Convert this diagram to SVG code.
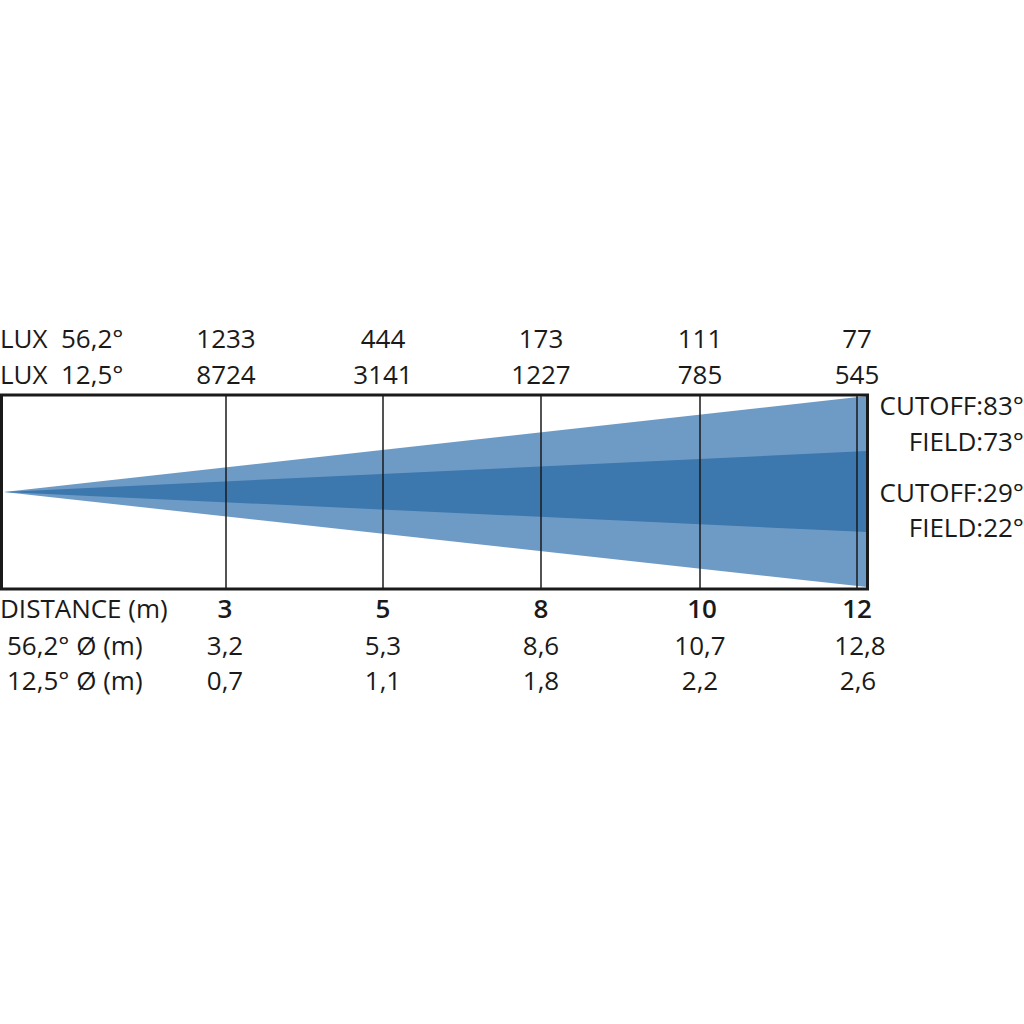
<svg xmlns="http://www.w3.org/2000/svg" width="1024" height="1024" viewBox="0 0 1024 1024">
<style>
text{font-family:"Open Sans","Liberation Sans",sans-serif;font-size:26px;fill:#1a1a1a}
.c{text-anchor:middle}
.r{text-anchor:end}
.b{font-weight:600}
.grid{stroke:#1a1a1a;stroke-width:1.5;fill:none}
.frame{stroke:#1a1a1a;stroke-width:3;fill:none}
</style>
<rect width="1024" height="1024" fill="#ffffff"/>
<g id="beam">
<polygon points="4,492 867,396 867,587" fill="#6e9bc6"/>
<polygon points="4,492 867,451 867,532" fill="#3c77ae"/>
</g>
<g id="grid">
<line class="grid" x1="226" y1="395" x2="226" y2="589"/>
<line class="grid" x1="383" y1="395" x2="383" y2="589"/>
<line class="grid" x1="541" y1="395" x2="541" y2="589"/>
<line class="grid" x1="700" y1="395" x2="700" y2="589"/>
<line class="grid" x1="857" y1="395" x2="857" y2="589"/>
<rect class="frame" x="1.5" y="395" width="866" height="194"/>
</g>
<g id="lux">
<text x="0" y="348">LUX</text>
<text x="61" y="348">56,2°</text>
<text x="0" y="384">LUX</text>
<text x="61" y="384">12,5°</text>
<text class="c" x="226" y="348">1233</text>
<text class="c" x="383" y="348">444</text>
<text class="c" x="541" y="348">173</text>
<text class="c" x="700" y="348">111</text>
<text class="c" x="857" y="348">77</text>
<text class="c" x="226" y="384">8724</text>
<text class="c" x="383" y="384">3141</text>
<text class="c" x="541" y="384">1227</text>
<text class="c" x="700" y="384">785</text>
<text class="c" x="857" y="384">545</text>
</g>
<g id="angles">
<text class="r" x="1024" y="415">CUTOFF:83°</text>
<text class="r" x="1024" y="451">FIELD:73°</text>
<text class="r" x="1024" y="502">CUTOFF:29°</text>
<text class="r" x="1024" y="537">FIELD:22°</text>
</g>
<g id="distance">
<text x="0" y="618">DISTANCE (m)</text>
<text x="7" y="655">56,2° Ø (m)</text>
<text x="7" y="690">12,5° Ø (m)</text>
<text class="c b" x="225" y="618">3</text>
<text class="c b" x="383" y="618">5</text>
<text class="c b" x="541" y="618">8</text>
<text class="c b" x="702" y="618">10</text>
<text class="c b" x="857" y="618">12</text>
<text class="c" x="225" y="655">3,2</text>
<text class="c" x="383" y="655">5,3</text>
<text class="c" x="541" y="655">8,6</text>
<text class="c" x="700" y="655">10,7</text>
<text class="c" x="860" y="655">12,8</text>
<text class="c" x="225" y="690">0,7</text>
<text class="c" x="383" y="690">1,1</text>
<text class="c" x="541" y="690">1,8</text>
<text class="c" x="700" y="690">2,2</text>
<text class="c" x="858" y="690">2,6</text>
</g>
</svg>
